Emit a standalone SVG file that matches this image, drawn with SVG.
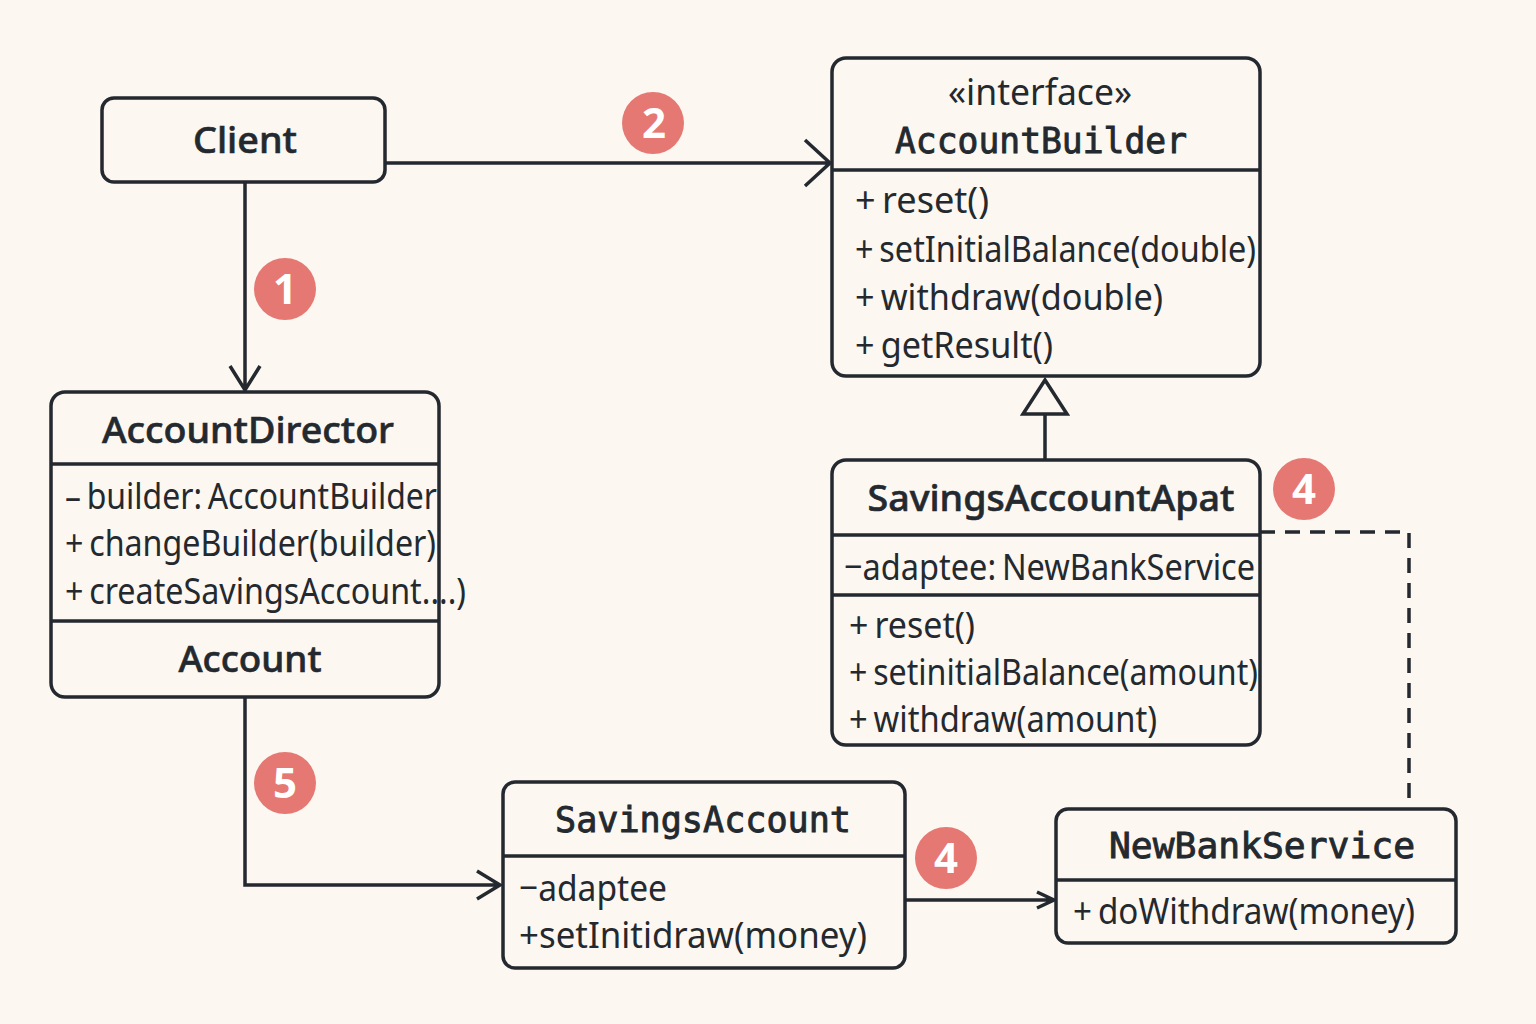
<svg xmlns="http://www.w3.org/2000/svg" width="1536" height="1024" viewBox="0 0 1536 1024">
<style>
.box{fill:#fcf7f1;stroke:#23292e;stroke-width:3.5}
.div{stroke:#23292e;stroke-width:3.5;fill:none}
.con{stroke:#23292e;stroke-width:3.5;fill:none;stroke-linejoin:miter}
.t{font-family:"Noto Sans","Open Sans",sans-serif;font-weight:500;font-size:37px;fill:#23292e;stroke:#23292e;stroke-width:.6;text-anchor:middle}
.m{font-family:"DejaVu Sans Mono","Liberation Mono",monospace;font-size:36px;fill:#23292e;stroke:#23292e;stroke-width:.9;text-anchor:middle}
.b{font-family:"Noto Sans","Open Sans",sans-serif;font-size:37px;word-spacing:-3px;fill:#23292e}
.s{font-family:"Noto Sans","Open Sans",sans-serif;font-size:36px;fill:#23292e;text-anchor:middle}
.bc{fill:#e57872}
.bt{font-family:"Noto Sans","Open Sans",sans-serif;font-weight:700;font-size:42px;fill:#fff;text-anchor:middle}
</style>
<rect width="1536" height="1024" fill="#fcf7f1"/>
<g id="connectors">
<path class="con" d="M245 182V390M230 366L245 390L260 366"/>
<path class="con" d="M385 163H830M805 140L830 163L805 186"/>
<path class="con" d="M1045 460V414"/>
<path class="con" d="M1045 380L1067 414H1023Z"/>
<path class="con" stroke-dasharray="15 10" d="M1260 532H1409V802"/>
<path class="con" d="M245 697V885H500M477 871L500 885L477 899"/>
<path class="con" d="M905 900H1054M1037 892L1054 900L1037 908"/>
</g>
<g id="client">
<rect class="box" x="102" y="98" width="283" height="84" rx="12"/>
<text class="t" x="245" y="153" textLength="104" lengthAdjust="spacingAndGlyphs">Client</text>
</g>
<g id="account-builder">
<rect class="box" x="832" y="58" width="428" height="318" rx="14"/>
<path class="div" d="M832 170H1260"/>
<text class="s" x="1040" y="105" textLength="184" lengthAdjust="spacingAndGlyphs">«interface»</text>
<text class="m" x="1041" y="153" textLength="292" lengthAdjust="spacingAndGlyphs">AccountBuilder</text>
<text class="b" x="855" y="213" textLength="134" lengthAdjust="spacingAndGlyphs">+ reset()</text>
<text class="b" x="855" y="262" textLength="401" lengthAdjust="spacingAndGlyphs">+ setInitialBalance(double)</text>
<text class="b" x="855" y="310" textLength="308" lengthAdjust="spacingAndGlyphs">+ withdraw(double)</text>
<text class="b" x="855" y="358" textLength="198" lengthAdjust="spacingAndGlyphs">+ getResult()</text>
</g>
<g id="account-director">
<rect class="box" x="51" y="392" width="388" height="305" rx="14"/>
<path class="div" d="M51 464H439M51 621H439"/>
<text class="t" x="248" y="443" textLength="292" lengthAdjust="spacingAndGlyphs">AccountDirector</text>
<text class="b" x="65" y="509" textLength="372" lengthAdjust="spacingAndGlyphs">– builder: AccountBuilder</text>
<text class="b" x="65" y="556" textLength="371" lengthAdjust="spacingAndGlyphs">+ changeBuilder(builder)</text>
<text class="b" x="65" y="604" textLength="401" lengthAdjust="spacingAndGlyphs">+ createSavingsAccount....)</text>
<text class="t" x="250" y="672" textLength="143" lengthAdjust="spacingAndGlyphs">Account</text>
</g>
<g id="savings-account-apat">
<rect class="box" x="832" y="460" width="428" height="285" rx="14"/>
<path class="div" d="M832 535H1260M832 595H1260"/>
<text class="t" x="1051" y="511" textLength="367" lengthAdjust="spacingAndGlyphs">SavingsAccountApat</text>
<text class="b" x="844" y="580" textLength="411" lengthAdjust="spacingAndGlyphs">−adaptee: NewBankService</text>
<text class="b" x="849" y="638" textLength="126" lengthAdjust="spacingAndGlyphs">+ reset()</text>
<text class="b" x="849" y="685" textLength="409" lengthAdjust="spacingAndGlyphs">+ setinitialBalance(amount)</text>
<text class="b" x="849" y="732" textLength="308" lengthAdjust="spacingAndGlyphs">+ withdraw(amount)</text>
</g>
<g id="savings-account">
<rect class="box" x="503" y="782" width="402" height="186" rx="12"/>
<path class="div" d="M503 856H905"/>
<text class="m" x="703" y="832" textLength="296" lengthAdjust="spacingAndGlyphs">SavingsAccount</text>
<text class="b" x="519" y="901" textLength="148" lengthAdjust="spacingAndGlyphs">−adaptee</text>
<text class="b" x="519" y="948" textLength="348" lengthAdjust="spacingAndGlyphs">+setInitidraw(money)</text>
</g>
<g id="new-bank-service">
<rect class="box" x="1056" y="809" width="400" height="134" rx="12"/>
<path class="div" d="M1056 880H1456"/>
<text class="m" x="1262" y="858" textLength="306" lengthAdjust="spacingAndGlyphs">NewBankService</text>
<text class="b" x="1073" y="924" textLength="342" lengthAdjust="spacingAndGlyphs">+ doWithdraw(money)</text>
</g>
<g id="badges">
<circle class="bc" cx="653" cy="123" r="31"/><text class="bt" x="654" y="138">2</text>
<circle class="bc" cx="285" cy="289" r="31"/><text class="bt" x="285" y="304">1</text>
<circle class="bc" cx="1304" cy="489" r="31"/><text class="bt" x="1304" y="504">4</text>
<circle class="bc" cx="946" cy="858" r="31"/><text class="bt" x="946" y="873">4</text>
<circle class="bc" cx="285" cy="783" r="31"/><text class="bt" x="285" y="798">5</text>
</g>
</svg>
